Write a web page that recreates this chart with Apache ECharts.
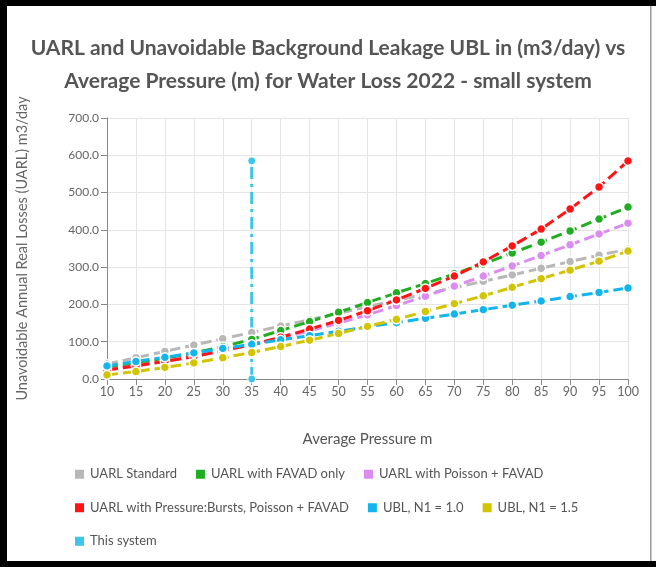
<!DOCTYPE html>
<html>
<head>
<meta charset="utf-8">
<script src="https://cdn.jsdelivr.net/npm/echarts@6/dist/echarts.min.js"></script>
<style>
  html, body { margin: 0; padding: 0; background: #fff; }
  #chart { width: 656px; height: 567px; }
</style>
</head>
<body>
<div id="chart"></div>
<script>
// average pressure (m)
const pressure = [10, 15, 20, 25, 30, 35, 40, 45, 50, 55, 60, 65, 70, 75, 80, 85, 90, 95, 100];

// m3/day
const uarlStandard = [40, 57, 74, 91, 108, 125, 142, 159, 176, 194, 211, 228, 245, 262, 279, 297, 315, 332, 348];
const uarlFavad = [30, 42, 55, 70, 87, 106, 130, 154, 179, 205, 231, 256, 282, 308, 338, 367, 397, 429, 461];
const uarlPoisson = [25, 36, 48, 61, 76, 92, 110, 129, 150, 172, 197, 222, 249, 276, 303, 331, 360, 389, 418];
const uarlBursts = [24, 35, 47, 60, 76, 92, 112, 134, 157, 183, 212, 243, 276, 314, 357, 402, 456, 515, 585];
const ublN10 = [35, 47, 58, 70, 82, 93, 105, 116, 128, 140, 151, 163, 174, 186, 198, 209, 221, 232, 244];
const ublN15 = [11, 20, 31, 43, 57, 71, 87, 104, 122, 141, 160, 181, 202, 223, 246, 269, 292, 316, 343];

// this system: vertical marker at its average pressure
const systemPressure = 35;
const systemLine = [0, 585];

const names = [
  'UARL Standard',
  'UARL with FAVAD only',
  'UARL with Poisson + FAVAD',
  'UARL with Pressure:Bursts, Poisson + FAVAD',
  'UBL, N1 = 1.0',
  'UBL, N1 = 1.5',
  'This system'
];
const colors = ['#b8b8b8', '#1fae1f', '#dc8cf0', '#ff1414', '#14b4ee', '#d2c400', '#3cc6ea'];
const curves = [uarlStandard, uarlFavad, uarlPoisson, uarlBursts, ublN10, ublN15];

const fontFamily = 'Lato';

const chart = echarts.init(document.getElementById('chart'));

const lineSeries = curves.map((vals, i) => ({
  name: names[i],
  type: 'line',
  data: pressure.map((p, j) => [p, vals[j]]),
  symbol: 'circle',
  symbolSize: 9,
  lineStyle: { width: 3, type: [11, 5] },
  itemStyle: { color: colors[i], borderColor: '#fff', borderWidth: 1.5 },
  emphasis: { disabled: true },
}));

lineSeries.push({
  name: names[6],
  type: 'line',
  data: systemLine.map((v) => [systemPressure, v]),
  symbol: 'circle',
  symbolSize: 8,
  lineStyle: { width: 3, type: [12, 5, 3, 5] },
  itemStyle: { color: colors[6], borderColor: '#fff', borderWidth: 1 },
  z: 3,
});

chart.setOption({
  animation: false,
  color: colors,
  title: {
    text: 'UARL and Unavoidable Background Leakage UBL in (m3/day) vs\nAverage Pressure (m) for Water Loss 2022 - small system',
    left: 'center',
    top: 27,
    textStyle: {
      fontFamily,
      fontSize: 21,
      fontWeight: 'bold',
      color: '#555',
      lineHeight: 33,
      align: 'center',
    },
  },
  grid: { left: 107, right: 28, top: 118, bottom: 188 },
  xAxis: {
    type: 'value',
    min: 10,
    max: 100,
    interval: 5,
    name: 'Average Pressure m',
    nameLocation: 'middle',
    nameGap: 53,
    nameTextStyle: { fontFamily, fontSize: 15, color: '#555' },
    axisLine: { lineStyle: { color: '#888' } },
    axisTick: { show: true, length: 6, lineStyle: { color: '#888' } },
    axisLabel: { fontFamily, fontSize: 12.5, color: '#666', margin: 6 },
    splitLine: { show: true, lineStyle: { color: '#e5e5e5' } },
  },
  yAxis: {
    type: 'value',
    min: 0,
    max: 700,
    interval: 100,
    name: 'Unavoidable Annual Real Losses (UARL) m3/day',
    nameLocation: 'middle',
    nameGap: 77,
    nameTextStyle: { fontFamily, fontSize: 14.5, color: '#666' },
    axisLine: { show: true, lineStyle: { color: '#888' } },
    axisTick: { show: true, length: 6, lineStyle: { color: '#888' } },
    axisLabel: {
      fontFamily,
      fontSize: 12,
      color: '#666',
      margin: 8,
      formatter: (v) => v.toFixed(1),
    },
    splitLine: { show: true, lineStyle: { color: '#e5e5e5' } },
  },
  legend: {
    data: names,
    left: 68,
    top: 461,
    width: 545,
    itemGap: 17,
    itemWidth: 11,
    itemHeight: 11,
    icon: 'rect',
    textStyle: { fontFamily, fontSize: 13, color: '#555', lineHeight: 16.5 },
  },
  graphic: [
    // black frame around the picture
    { type: 'rect', shape: { x: 0, y: 0, width: 656, height: 6 }, style: { fill: '#000' } },
    { type: 'rect', shape: { x: 0, y: 0, width: 7, height: 567 }, style: { fill: '#000' } },
    { type: 'rect', shape: { x: 0, y: 561, width: 656, height: 6 }, style: { fill: '#000' } },
    { type: 'rect', shape: { x: 650, y: 6, width: 1.5, height: 555 }, style: { fill: '#999' } },
  ],
  series: lineSeries,
});
</script>
</body>
</html>
